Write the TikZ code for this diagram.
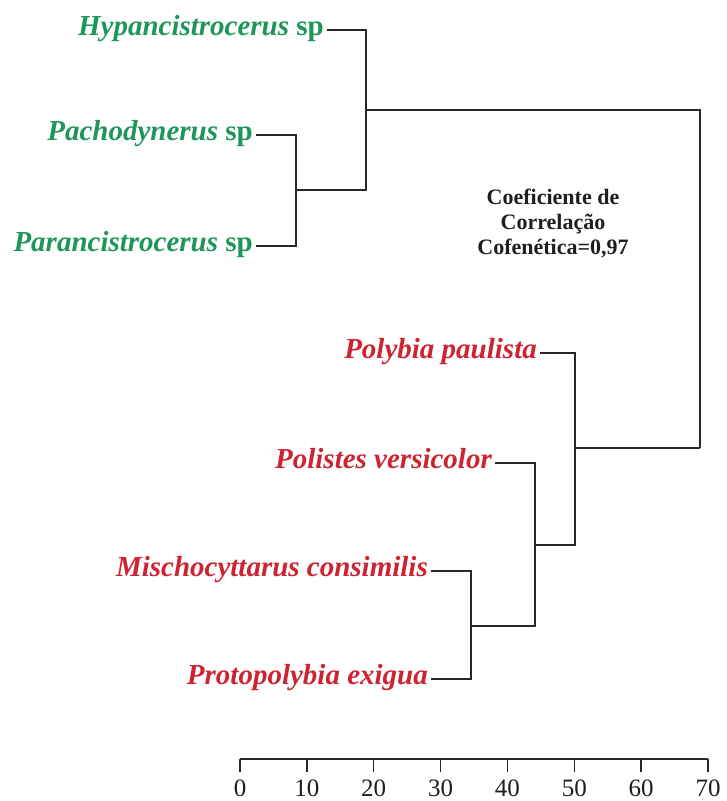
\documentclass[tikz,border=0pt]{standalone}
\usepackage{fontspec}
\setmainfont{Liberation Serif}
\definecolor{sgreen}{RGB}{30,150,90}
\definecolor{sred}{RGB}{205,35,50}
\definecolor{lnc}{RGB}{40,40,40}
\definecolor{txc}{RGB}{30,30,30}
\begin{document}
\begin{tikzpicture}[x=1pt,y=-1pt,
  leaf/.style={anchor=east,inner xsep=3pt,inner ysep=0pt,text height=20pt,text depth=9pt,
    font=\fontsize{29}{31}\selectfont\bfseries},
  leafg/.style={leaf,text=sgreen},
  leafr/.style={leaf,text=sred,font=\fontsize{29}{31}\selectfont\bfseries\itshape},
  branch/.style={draw=lnc,line width=1.5pt},
  note/.style={align=center,text=txc,font=\fontsize{22}{25}\selectfont\bfseries},
  ticklab/.style={anchor=base,inner sep=0pt,text=txc,font=\fontsize{25}{27}\selectfont}]
\useasboundingbox (0,0) rectangle (726,801);
% leaves
\node[leafg] (hyp) at (327,30) {\textit{Hypancistrocerus} sp};
\node[leafg] (pac) at (256,135) {\textit{Pachodynerus} sp};
\node[leafg] (par) at (256,246) {\textit{Parancistrocerus} sp};
\node[leafr] (pol) at (540,353) {Polybia paulista};
\node[leafr] (pve) at (495,463) {Polistes versicolor};
\node[leafr] (mis) at (431,571) {Mischocyttarus consimilis};
\node[leafr] (pro) at (431,679) {Protopolybia exigua};
% joins
\coordinate (j1) at (296,190);
\coordinate (j2) at (366,110);
\coordinate (j3) at (471,626);
\coordinate (j4) at (535,545);
\coordinate (j5) at (575,448);
\coordinate (root) at (700,448);
% branches
\draw[branch] (pac.east) -| (j1);
\draw[branch] (par.east) -| (j1);
\draw[branch] (j1) -| (j2);
\draw[branch] (hyp.east) -| (j2);
\draw[branch] (j2) -| (root);
\draw[branch] (mis.east) -| (j3);
\draw[branch] (pro.east) -| (j3);
\draw[branch] (j3) -| (j4);
\draw[branch] (pve.east) -| (j4);
\draw[branch] (j4) -| (j5);
\draw[branch] (pol.east) -| (j5);
\draw[branch] (j5) -- (root);
% note
\node[note] (coef) at (553,223) {Coeficiente de\\Correlação\\Cofenética=0,97};
% axis
\coordinate (ax0) at (240,759);
\coordinate (ax1) at (708,759);
\draw[branch] (ax0) -- (ax1);
\foreach \v [count=\i from 0] in {0,10,...,70}{
  \draw[branch] ({240+6.686*\v},759) -- ({240+6.686*\v},772);
  \node[ticklab] (t\i) at ({240+6.686*\v},796) {\v};
}
\end{tikzpicture}
\end{document}
